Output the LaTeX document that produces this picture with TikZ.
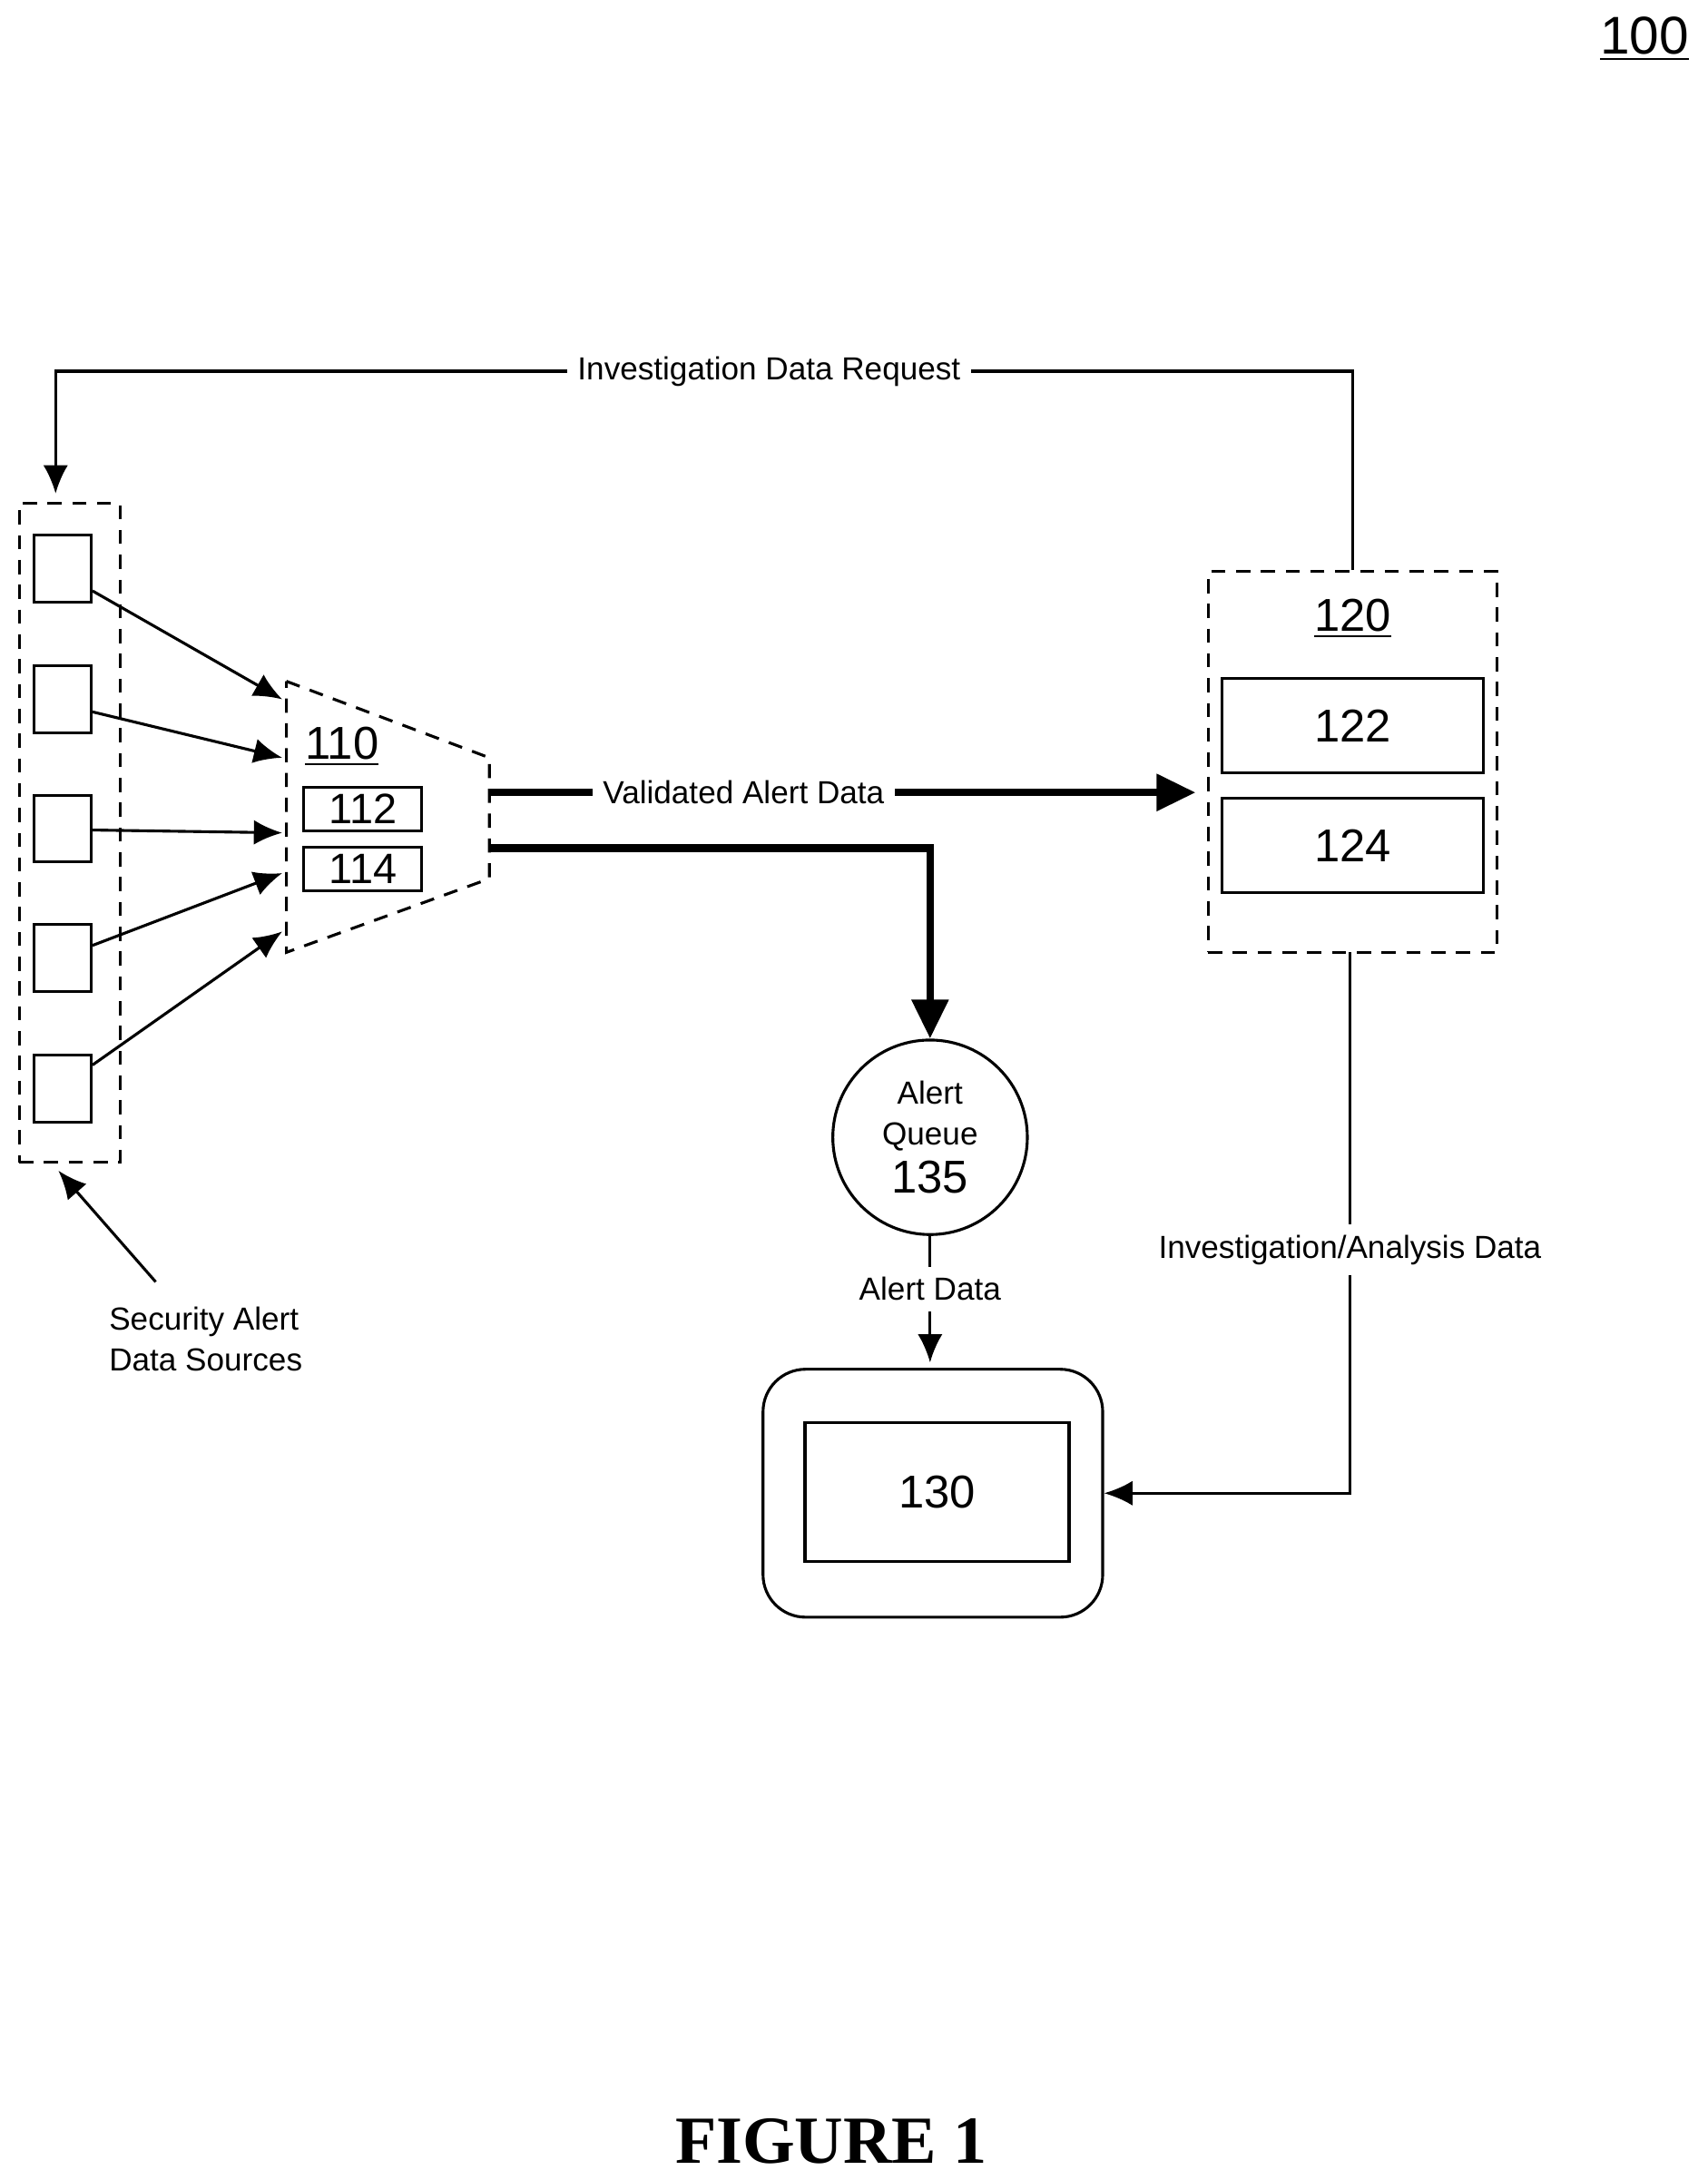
\documentclass[tikz,border=0pt]{standalone}
\usepackage{fontspec}
\setmainfont{Liberation Sans}
\newfontfamily\figfont{Liberation Serif}
\usetikzlibrary{positioning, arrows.meta, calc}
\tikzset{
    src/.style={rectangle, draw=black, thick, minimum width=0.566cm, minimum height=0.662cm, inner sep=0pt},
    sub/.style={rectangle, draw=black, thick, minimum width=1.17cm, minimum height=0.43cm, inner sep=0pt, font=\fontsize{12}{14}\selectfont},
    unit/.style={rectangle, draw=black, thick, minimum width=2.6cm, minimum height=0.94cm, inner sep=0pt, font=\fontsize{13}{15}\selectfont},
    group/.style={rectangle, draw=black, thick, dash pattern=on 4pt off 3pt, inner sep=0pt},
    lbl/.style={font=\fontsize{9}{11.5}\selectfont, fill=white, align=center, inner sep=3pt},
    num/.style={font=\fontsize{13}{15}\selectfont},
    arrow/.style={-{Latex[length=8pt,width=7pt]}, thick},
    bigarrow/.style={-{Triangle[length=11pt,width=10pt]}, line width=2.2pt}
}
\begin{document}
\begin{tikzpicture}[x=0.0138cm, y=-0.0138cm]
    \useasboundingbox (0,0) rectangle (1228,1568);

    % Title and figure label
    \node[font=\fontsize{15}{18}\selectfont] (fig) at (1183,28) {\underline{100}};
    \node[font=\figfont\bfseries\fontsize{19}{22}\selectfont] (caption) at (598,1540) {FIGURE 1};

    % Security alert data sources
    \node[group, minimum width=1.0cm, minimum height=6.54cm] (sources) at (50,599) {};
    \foreach \i/\y in {1/409, 2/503, 3/596, 4/689, 5/783}
        \node[src] (s\i) at (45,\y) {};
    \node[lbl, align=left] (srclbl) at (148,963) {Security Alert\\Data Sources};
    \coordinate (srctip) at (42,842);
    \draw[arrow] (112,922) -- (srctip);

    % Validator 110
    \draw[thick, dash pattern=on 4pt off 3pt] (206,490) coordinate (t1) -- (352,545) coordinate (t2)
        -- (352,632) coordinate (t3) -- (206,685) coordinate (t4) -- cycle;
    \node[num] (n110) at (246,537) {\underline{110}};
    \node[sub] (n112) at (261,582) {112};
    \node[sub] (n114) at (261,625) {114};
    \foreach \i/\ya/\yb in {1/425/503, 2/512/545, 3/597/599, 4/680/628, 5/766/670}
        \draw[arrow] (s\i.east |- 0,\ya) -- (203,\yb);

    % Investigation system 120
    \node[group, minimum width=2.87cm, minimum height=3.78cm] (sys120) at (973,548) {};
    \node[num] (n120) at (973,445) {\underline{120}};
    \node[unit] (n122) at (973,522) {122};
    \node[unit] (n124) at (973,608) {124};

    % Alert queue 135
    \node[circle, draw=black, thick, minimum size=1.93cm, align=center, inner sep=0pt,
        font=\fontsize{9}{11.5}\selectfont] (queue) at (669,818)
        {Alert\\Queue\\[2pt]{\fontsize{13}{13}\selectfont 135}};

    % Device 130
    \node[rectangle, draw=black, thick, rounded corners=12pt, minimum width=3.37cm, minimum height=2.46cm] (dev) at (671,1074) {};
    \node[unit, minimum width=2.62cm, minimum height=1.38cm] (n130) at (674,1073) {130};

    % Connectors
    \coordinate (srctop) at (40,355);
    \draw[bigarrow] (352,570) -- (860,570) node[lbl, pos=0.36] {Validated Alert Data};
    \draw[bigarrow] (352,610) -- (669,610) -- (queue.north);
    \draw[arrow] (queue.south) -- (669,980) node[lbl, pos=0.42] {Alert Data};
    \draw[arrow] (sys120.north) -- (973,267) -- node[lbl, pos=0.45] {Investigation Data Request} (40,267) -- (srctop);
    \draw[arrow] (971,685) -- node[lbl, pos=0.55] {Investigation/Analysis Data} (971,1074) -- (dev.east);
\end{tikzpicture}
\end{document}
